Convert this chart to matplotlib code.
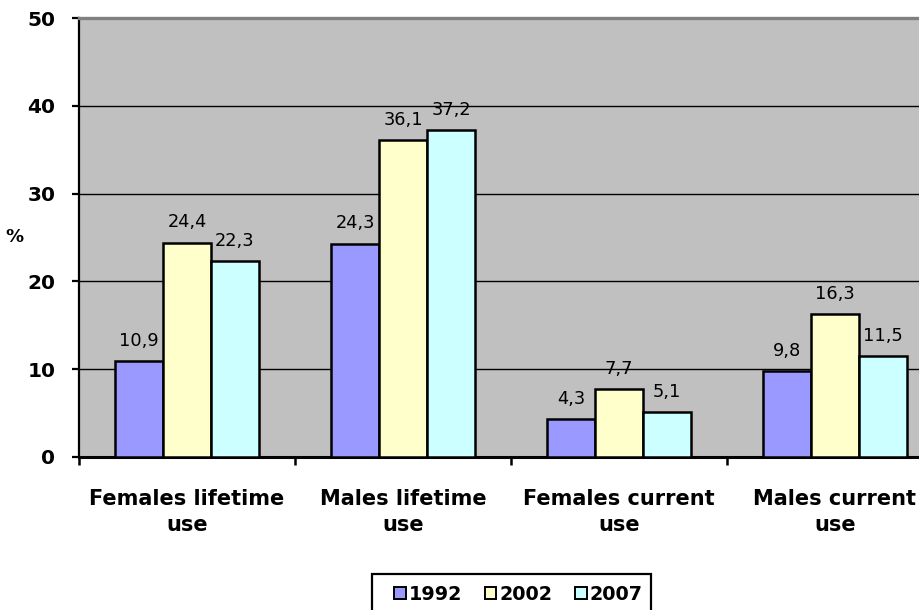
import matplotlib
matplotlib.use("Agg")
import matplotlib.pyplot as plt
from matplotlib.patches import Patch, Rectangle
import numpy as np

categories = ["Females lifetime\nuse", "Males lifetime\nuse",
              "Females current\nuse", "Males current\nuse"]
years = ["1992", "2002", "2007"]
values_1992 = [10.9, 24.3, 4.3, 9.8]
values_2002 = [24.4, 36.1, 7.7, 16.3]
values_2007 = [22.3, 37.2, 5.1, 11.5]
yticks = [0, 10, 20, 30, 40, 50]

series = [values_1992, values_2002, values_2007]
colors = ["#9999FF", "#FFFFCC", "#CCFFFF"]

W, H = 920, 610
fig = plt.figure(figsize=(W / 100, H / 100), dpi=100)

# plot area in pixel coordinates (the right part runs past the canvas)
left, top, bottom, cat_w = 79, 18, 457, 216
ax = fig.add_axes([left / W, 1 - bottom / H, 4 * cat_w / W, (bottom - top) / H])
ax.set_facecolor("#C0C0C0")

x = np.arange(len(categories))
bw = 48 / cat_w
for i, (vals, col) in enumerate(zip(series, colors)):
    pos = x + (i - 1) * bw
    ax.bar(pos, vals, width=bw, color=col, edgecolor="black", linewidth=1.8,
           zorder=3, label=years[i])
    for xp, v in zip(pos, vals):
        ax.annotate(f"{v:.1f}".replace(".", ","), (xp, v), xytext=(0, 11),
                    textcoords="offset points", ha="center", va="baseline",
                    fontsize=12.8, family="DejaVu Sans", zorder=4)

ax.set_xlim(-0.5, 3.5)
ax.set_ylim(0, 50)
ax.set_yticks(yticks)
ax.set_yticklabels([str(t) for t in yticks], fontsize=14.5, fontweight="bold",
                   family="DejaVu Sans")
ax.yaxis.grid(True, color="black", linewidth=1.0, zorder=1)
ax.set_axisbelow(True)
ax.tick_params(axis="y", direction="out", length=5, width=1.6, pad=12)

# boundaries carry the tick marks, centres carry the labels
ax.set_xticks(np.arange(-0.5, 3.6, 1.0))
ax.set_xticklabels([])
ax.tick_params(axis="x", which="major", direction="out", length=6, width=1.8)
ax.set_xticks(x, minor=True)
ax.set_xticklabels(categories, minor=True, fontsize=15, fontweight="bold",
                   family="DejaVu Sans", linespacing=1.35)
ax.tick_params(axis="x", which="minor", length=0, pad=23)

for side in ("top", "right"):
    ax.spines[side].set_color("#808080")
    ax.spines[side].set_linewidth(2.4)
ax.spines["left"].set_linewidth(1.6)
ax.spines["bottom"].set_linewidth(2.2)

fig.text(14 / W, 1 - 237 / H, "%", ha="center", va="center", fontsize=13,
         fontweight="bold", family="DejaVu Sans")

# legend frame, open at the bottom edge of the canvas
fig.patches.append(Rectangle((372 / W, -0.05), (651 - 372) / W, 0.05 + (H - 574) / H,
                             transform=fig.transFigure, fill=False,
                             edgecolor="black", linewidth=1.6))
handles = [Patch(facecolor=c, edgecolor="black", linewidth=1.4) for c in colors]
fig.legend(handles, years, loc="upper left",
           bbox_to_anchor=(394 / W, 1 - 585 / H), ncol=3, frameon=False,
           borderpad=0, borderaxespad=0, handlelength=0.6, handleheight=0.6,
           handletextpad=0.15, columnspacing=1.2,
           prop={"family": "DejaVu Sans", "weight": "bold", "size": 13.8})

fig.savefig("out.png", dpi=100, facecolor="white")
